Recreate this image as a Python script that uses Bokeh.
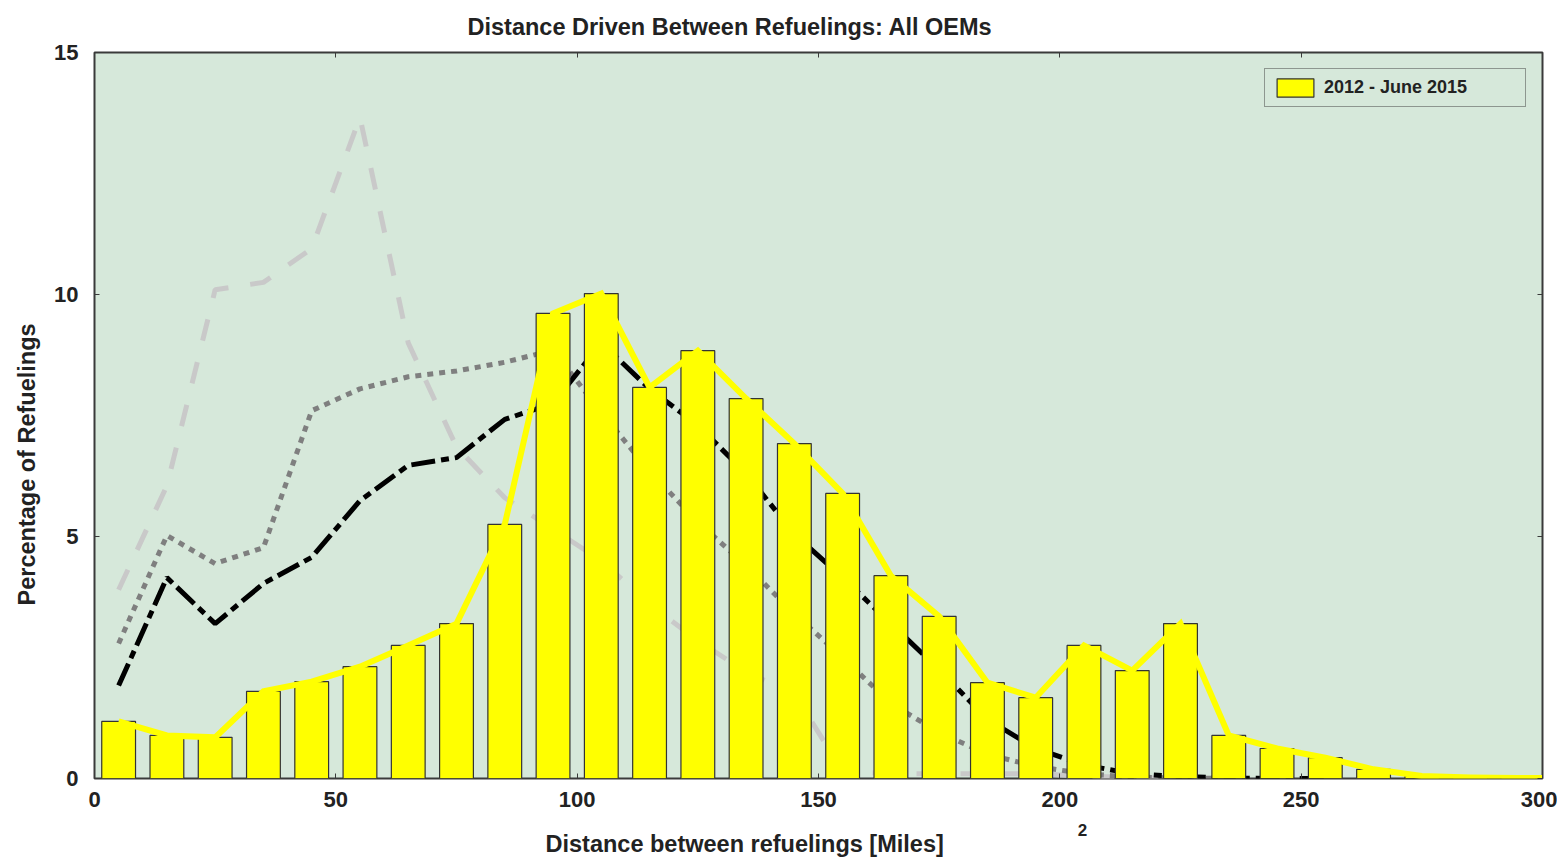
from bokeh.plotting import figure
from bokeh.models import Legend, LegendItem, LinearAxis, FixedTicker, Title
from bokeh.embed import file_html
from bokeh.resources import INLINE

# 10-mile bins, centred on 5, 15, ... 295
bin_centers = [5, 15, 25, 35, 45, 55, 65, 75, 85, 95,
               105, 115, 125, 135, 145, 155, 165, 175, 185, 195,
               205, 215, 225, 235, 245, 255, 265, 275, 285, 295]

# share of refuelings per bin, 2012 - June 2015 (bars + yellow trace)
pct_2012_2015 = [1.18, 0.89, 0.85, 1.80, 2.00, 2.31, 2.75, 3.20, 5.25, 9.61,
                 10.02, 8.08, 8.84, 7.85, 6.92, 5.89, 4.19, 3.35, 1.98, 1.67,
                 2.75, 2.23, 3.20, 0.89, 0.62, 0.43, 0.19, 0.05, 0.02, 0.01]

# comparison periods (unlabelled traces)
pct_dashdot = [1.92, 4.15, 3.20, 4.03, 4.57, 5.74, 6.47, 6.63, 7.42, 7.75,
               9.00, 8.05, 7.30, 6.30, 5.05, 4.15, 3.20, 2.25, 1.22, 0.62,
               0.28, 0.10, 0.04, 0.01, 0.00, 0.00]

pct_dotted = [2.79, 5.02, 4.44, 4.77, 7.60, 8.05, 8.30, 8.42, 8.60, 8.85,
              7.56, 6.35, 5.30, 4.40, 3.40, 2.50, 1.55, 0.95, 0.50, 0.25,
              0.10, 0.03, 0.01, 0.00]

pct_dashed = [3.90, 6.05, 10.10, 10.25, 10.95, 13.66, 9.00, 6.85, 5.80, 5.15,
              4.50, 3.60, 2.85, 2.20, 1.75, 0.15, 0.10, 0.10, 0.10, 0.10,
              0.05, 0.02, 0.00]

# yellow trace runs on to the right edge of the axis
trend_tail_x = [300]
trend_tail_y = [0.01]

x_ticks = [0, 50, 100, 150, 200, 250, 300]
y_ticks = [0, 5, 10, 15]

# page-number mark printed under the axis
page_mark_x = 204.7
page_mark = "2"

BG = "#d6e8da"
INK = "#222222"
FRAME = "#3a3a3a"
FONT = "Liberation Sans"

p = figure(width=1557, height=858,
           frame_width=1448, frame_height=726,
           x_range=(0, 300), y_range=(0, 15),
           min_border_left=94, min_border_right=15,
           min_border_top=52, min_border_bottom=80,
           background_fill_color=BG, border_fill_color="white",
           output_backend="svg", toolbar_location=None)

p.xgrid.visible = False
p.ygrid.visible = False
p.outline_line_color = FRAME
p.outline_line_width = 2


def style_axis(ax, ticks, label_size, label_alpha=1.0):
    ax.ticker = FixedTicker(ticks=ticks)
    ax.axis_line_color = None
    ax.major_tick_in = 5
    ax.major_tick_out = 0
    ax.major_tick_line_color = FRAME
    ax.major_tick_line_width = 1
    ax.minor_tick_line_color = None
    ax.major_label_text_font = FONT
    ax.major_label_text_font_style = "bold"
    ax.major_label_text_color = INK
    ax.major_label_text_font_size = label_size
    ax.major_label_text_alpha = label_alpha


style_axis(p.xaxis[0], x_ticks, "22px")
style_axis(p.yaxis[0], y_ticks, "22px")
p.xaxis[0].major_label_standoff = 13
p.yaxis[0].major_label_standoff = 16

# mirrored tick marks on the top and right edges
top_axis = LinearAxis()
right_axis = LinearAxis()
style_axis(top_axis, x_ticks, "8px", 0.0)
style_axis(right_axis, y_ticks, "8px", 0.0)
top_axis.major_label_standoff = 0
right_axis.major_label_standoff = 0
p.add_layout(top_axis, "above")
p.add_layout(right_axis, "right")

# second bottom axis: carries only the page mark
mark_axis = LinearAxis()
mark_axis.ticker = FixedTicker(ticks=[page_mark_x])
mark_axis.major_label_overrides = {page_mark_x: page_mark}
mark_axis.axis_line_color = None
mark_axis.major_tick_line_color = None
mark_axis.minor_tick_line_color = None
mark_axis.major_label_standoff = 8
mark_axis.major_label_text_font = FONT
mark_axis.major_label_text_font_style = "bold"
mark_axis.major_label_text_font_size = "17px"
mark_axis.major_label_text_color = INK
p.add_layout(mark_axis, "below")

# comparison traces sit behind the bars
p.line(bin_centers[:len(pct_dashed)], pct_dashed, line_color="#c9c9c9",
       line_width=5, line_dash="22 22")
p.line(bin_centers[:len(pct_dotted)], pct_dotted, line_color="#7f7f7f",
       line_width=5, line_dash="6 6")
p.line(bin_centers[:len(pct_dashdot)], pct_dashdot, line_color="black",
       line_width=5, line_dash="24 6 8 6")

bars = p.vbar(x=bin_centers, top=pct_2012_2015, width=7,
              fill_color="#ffff00", line_color="#333333", line_width=1.2)

p.line(bin_centers + trend_tail_x, pct_2012_2015 + trend_tail_y,
       line_color="#ffff00", line_width=6, line_join="miter")

legend = Legend(items=[LegendItem(label="2012 - June 2015", renderers=[bars])],
                location="top_right", margin=16, padding=7, spacing=0,
                glyph_width=46, glyph_height=23, label_standoff=6,
                label_width=194, label_height=23,
                label_text_font=FONT, label_text_font_style="bold",
                label_text_font_size="18px", label_text_color=INK,
                border_line_color="#444444", border_line_width=1,
                background_fill_color=BG, background_fill_alpha=1.0)
p.add_layout(legend)


def side_text(text, side, size, offset, standoff, valign):
    t = Title(text=text, align="left", offset=offset, standoff=standoff,
              vertical_align=valign, text_font=FONT, text_font_style="bold",
              text_font_size=size, text_color=INK)
    p.add_layout(t, side)


side_text("Distance Driven Between Refuelings: All OEMs", "above", "23.5px", 373, 22, "top")
side_text("Distance between refuelings [Miles]", "below", "23.5px", 451, -19, "bottom")
side_text("Percentage of Refuelings", "left", "23.5px", 173, 20, "top")

open("out.html", "w").write(file_html(p, INLINE))
